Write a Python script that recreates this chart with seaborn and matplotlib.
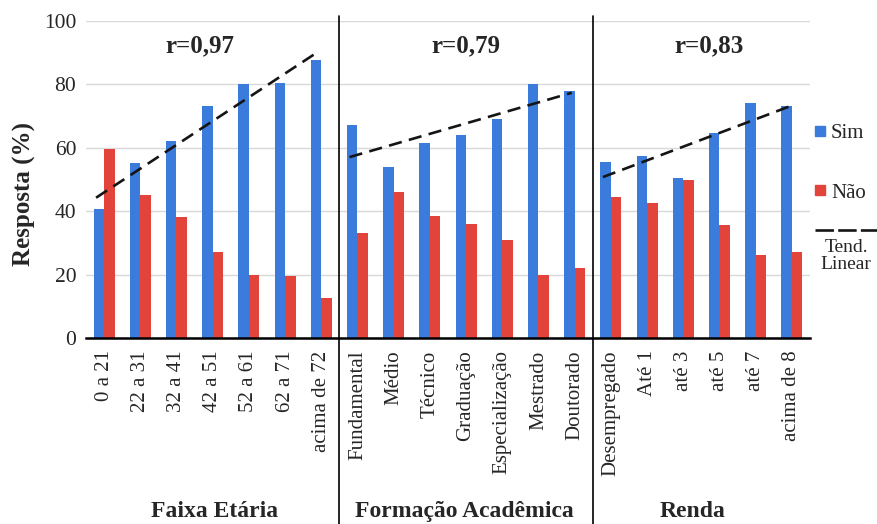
import matplotlib

matplotlib.use("Agg")

import matplotlib.pyplot as plt
import matplotlib.transforms as mtransforms
import numpy as np
import pandas as pd
import seaborn as sns
from matplotlib.lines import Line2D

# --- data ------------------------------------------------------------------
faixa_labels = ["0 a 21", "22 a 31", "32 a 41", "42 a 51", "52 a 61", "62 a 71", "acima de 72"]
faixa_sim = [40.5, 55, 62, 73, 80, 80.5, 87.5]
faixa_nao = [59.5, 45, 38, 27, 20, 19.5, 12.5]

formacao_labels = ["Fundamental", "Médio", "Técnico", "Graduação", "Especialização", "Mestrado", "Doutorado"]
formacao_sim = [67, 54, 61.5, 64, 69, 80, 78]
formacao_nao = [33, 46, 38.5, 36, 31, 20, 22]

renda_labels = ["Desempregado", "Até 1", "até 3", "até 5", "até 7", "acima de 8"]
renda_sim = [55.5, 57.5, 50.3, 64.5, 74, 73]
renda_nao = [44.5, 42.5, 49.7, 35.5, 26, 27]

group_names = ["Faixa Etária", "Formação Acadêmica", "Renda"]
group_r = ["r=0,97", "r=0,79", "r=0,83"]

blue = "#3a7bdc"
red = "#e2433b"

groups = [
    (faixa_labels, faixa_sim, faixa_nao),
    (formacao_labels, formacao_sim, formacao_nao),
    (renda_labels, renda_sim, renda_nao),
]

rows = []
for labels, sim, nao in groups:
    for cat, s, n in zip(labels, sim, nao):
        rows.append({"categoria": cat, "resposta": "Sim", "valor": s})
        rows.append({"categoria": cat, "resposta": "Não", "valor": n})
data = pd.DataFrame(rows)
order = faixa_labels + formacao_labels + renda_labels

# --- figure ----------------------------------------------------------------
sns.set_theme(style="white")
plt.rcParams["font.family"] = ["Liberation Serif", "DejaVu Serif"]

fig = plt.figure(figsize=(8.77, 5.24), dpi=100)
ax = fig.add_axes([0.098, 0.355, 0.8256, 0.6055])

sns.barplot(
    data=data,
    x="categoria",
    y="valor",
    hue="resposta",
    order=order,
    hue_order=["Sim", "Não"],
    palette={"Sim": blue, "Não": red},
    width=0.58,
    saturation=1,
    linewidth=0,
    errorbar=None,
    legend=False,
    ax=ax,
)

ax.set_xlim(-0.5, len(order) - 0.5)
ax.set_ylim(0, 100)
ax.set_yticks(range(0, 101, 20))
ax.yaxis.grid(True, color="#d9d9d9", linewidth=1)
ax.set_axisbelow(True)
for side in ("left", "top", "right"):
    ax.spines[side].set_visible(False)
ax.spines["bottom"].set_color("black")
ax.spines["bottom"].set_linewidth(1.8)

ax.tick_params(axis="y", length=0, labelsize=15.5, pad=7)
ax.tick_params(axis="x", length=0, labelsize=15, pad=9, rotation=90)
ax.set_xlabel("")
ax.set_ylabel("Resposta (%)", fontsize=18, fontweight="bold")
ax.yaxis.set_label_coords(-0.069, 0.455)

# linear trend of "Sim" per group, separators and group captions
trans = mtransforms.blended_transform_factory(ax.transData, ax.transAxes)
title_x = [2.65, 10.0, 16.7]
caption_x = [3.05, 9.95, 16.25]
start = 0
for i, (labels, sim, nao) in enumerate(groups):
    idx = np.arange(len(labels))
    slope, intercept = np.polyfit(idx, sim, 1)
    xs = np.array([-0.22, len(labels) - 1 - 0.08])
    ax.plot(
        start + xs,
        intercept + slope * xs,
        color="#151515",
        linewidth=1.9,
        dashes=(5, 2.8),
        zorder=5,
    )
    ax.text(title_x[i], 92, group_r[i], ha="center", va="center",
            fontsize=18, fontweight="bold")
    ax.text(caption_x[i], -0.548, group_names[i], transform=trans,
            ha="center", va="center", fontsize=17, fontweight="bold")
    start += len(labels)
    if i < len(groups) - 1:
        ax.plot([start - 0.5, start - 0.5], [1.016, -0.59], transform=trans,
                color="black", linewidth=1.2, clip_on=False)

handles = [
    Line2D([], [], marker="s", linestyle="", color=blue, markersize=7, label="Sim"),
    Line2D([], [], marker="s", linestyle="", color=red, markersize=7, label="Não"),
]
ax.legend(
    handles=handles,
    loc="upper left",
    bbox_to_anchor=(1.006, 0.675),
    frameon=False,
    fontsize=15,
    handlelength=0.5,
    handletextpad=0.3,
    labelspacing=1.9,
    borderaxespad=0,
    borderpad=0,
)

fig.add_artist(Line2D([815 / 877, 1.0], [1 - 230 / 524] * 2, transform=fig.transFigure,
                      color="#151515", linewidth=1.9, dashes=(7, 1.6)))
fig.text(846 / 877, 1 - 256 / 524, "Tend.\nLinear", ha="center", va="center",
         fontsize=14, linespacing=1.0)

fig.savefig("out.png", dpi=100)
